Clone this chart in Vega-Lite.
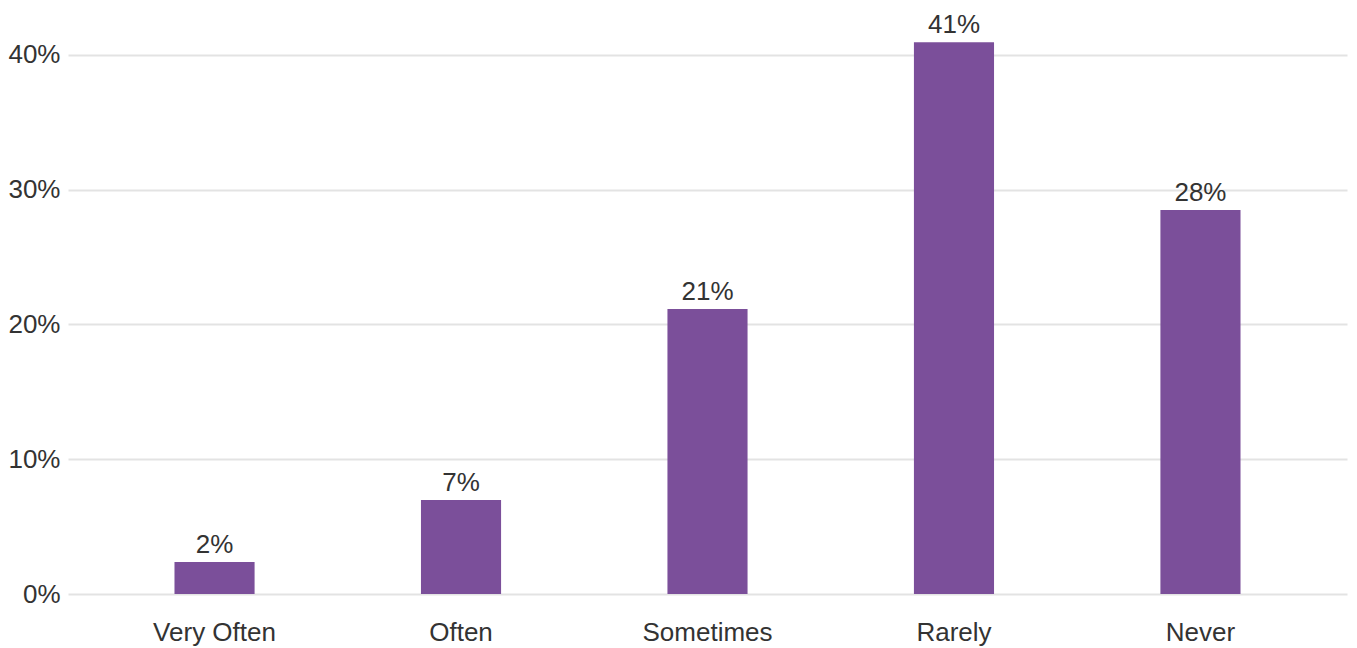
{
  "$schema": "https://vega.github.io/schema/vega-lite/v6.json",
  "autosize": "none",
  "width": 1279,
  "height": 566,
  "padding": {"left": 68, "top": 28, "right": 10, "bottom": 54},
  "background": "white",
  "config": {
    "view": {"stroke": null},
    "font": "Liberation Sans",
    "axis": {"labelFont": "Liberation Sans", "labelColor": "#333333", "labelFontSize": 26}
  },
  "data": {
    "values": [
      {"category": "Very Often", "value": 0.0237},
      {"category": "Often", "value": 0.0697},
      {"category": "Sometimes", "value": 0.2114},
      {"category": "Rarely", "value": 0.4095},
      {"category": "Never", "value": 0.2849}
    ]
  },
  "encoding": {
    "x": {
      "field": "category",
      "type": "nominal",
      "sort": null,
      "scale": {"paddingInner": 0.675, "paddingOuter": 0.432},
      "axis": {"title": null, "labelAngle": 0, "domain": false, "ticks": false, "labelPadding": 25, "grid": false}
    },
    "y": {
      "field": "value",
      "type": "quantitative",
      "scale": {"domain": [0, 0.42], "nice": false},
      "axis": {"title": null, "format": ".0%", "values": [0, 0.1, 0.2, 0.3, 0.4], "domain": false, "ticks": false, "labelPadding": 8, "gridColor": "#e3e3e3", "gridWidth": 2}
    }
  },
  "layer": [
    {"mark": {"type": "bar", "color": "#7b4f9a"}},
    {
      "mark": {"type": "text", "baseline": "bottom", "dy": -4, "fontSize": 26, "color": "#333333", "font": "Liberation Sans"},
      "encoding": {"text": {"field": "value", "type": "quantitative", "format": ".0%"}}
    }
  ]
}
